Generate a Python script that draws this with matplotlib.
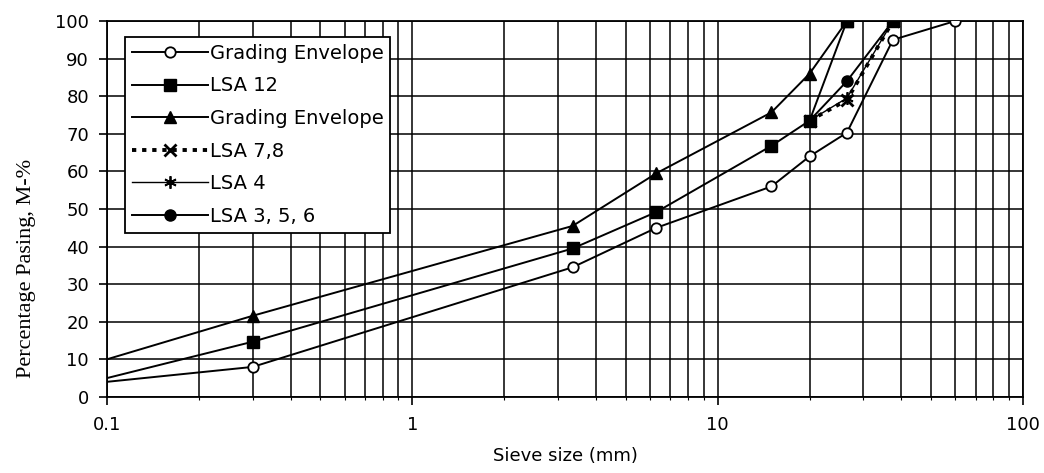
import matplotlib
matplotlib.use("Agg")
import matplotlib.pyplot as plt
from matplotlib.ticker import FixedLocator, FixedFormatter, LogLocator, NullFormatter

# ---- data ----
sieve_lower = [0.075, 0.3, 3.35, 6.3, 15, 20, 26.5, 37.5, 60]
pass_lower = [3, 8, 34.5, 45, 56, 64, 70.3, 95, 100]

sieve_lsa12 = [0.075, 0.3, 3.35, 6.3, 15, 20, 26.5, 37.5]
pass_lsa12 = [2.5, 14.7, 39.5, 49.2, 66.8, 73.5, 100, 100]

sieve_upper = [0.075, 0.3, 3.35, 6.3, 15, 20, 26.5]
pass_upper = [7, 21.6, 45.5, 59.5, 75.7, 86, 100]

sieve_lsa = [20, 26.5, 37.5]
pass_lsa78 = [73.5, 79, 100]
pass_lsa4 = [73.5, 79.5, 100]
pass_lsa356 = [73.5, 84, 100]

labels = ["Grading Envelope", "LSA 12", "Grading Envelope", "LSA 7,8", "LSA 4", "LSA 3, 5, 6"]
x_ticks = [0.1, 1, 10, 100]
x_ticklabels = ["0.1", "1", "10", "100"]
y_ticks = list(range(0, 101, 10))
y_ticklabels = [str(v) for v in y_ticks]

plt.rcParams["font.family"] = ["DejaVu Sans"]

fig = plt.figure(figsize=(10.44, 4.73), dpi=100)
ax = fig.add_axes([107 / 1044, 1 - 397 / 473, 916 / 1044, 376 / 473])

lw = 1.4
ax.plot(sieve_lower, pass_lower, color="black", lw=lw, marker="o", ms=7.5,
        mfc="white", mec="black", mew=1.3, label=labels[0], zorder=3)
ax.plot(sieve_lsa12, pass_lsa12, color="black", lw=lw, marker="s", ms=8,
        mfc="black", mec="black", label=labels[1], zorder=3)
ax.plot(sieve_upper, pass_upper, color="black", lw=lw, marker="^", ms=8.5,
        mfc="black", mec="black", label=labels[2], zorder=3)
ax.plot(sieve_lsa, pass_lsa78, color="black", lw=2.8, linestyle=(0, (1.1, 1.5)),
        marker="x", ms=8, mew=2.0, mec="black", label=labels[3], zorder=3)
ax.plot(sieve_lsa, pass_lsa4, color="black", lw=1.0, marker=(6, 2, 0), ms=9,
        mew=1.3, mec="black", label=labels[4], zorder=3)
ax.plot(sieve_lsa, pass_lsa356, color="black", lw=lw, marker="o", ms=8,
        mfc="black", mec="black", label=labels[5], zorder=3)

ax.set_xscale("log")
ax.set_xlim(0.1, 100)
ax.set_ylim(0, 100)

ax.xaxis.set_major_locator(FixedLocator(x_ticks))
ax.xaxis.set_major_formatter(FixedFormatter(x_ticklabels))
ax.xaxis.set_minor_locator(LogLocator(base=10, subs=range(2, 10)))
ax.xaxis.set_minor_formatter(NullFormatter())
ax.yaxis.set_major_locator(FixedLocator(y_ticks))
ax.yaxis.set_major_formatter(FixedFormatter(y_ticklabels))

ax.grid(which="both", axis="x", color="black", lw=1.1, zorder=1)
ax.grid(which="major", axis="y", color="black", lw=1.1, zorder=1)
ax.set_axisbelow(True)

for s in ax.spines.values():
    s.set_color("black")
    s.set_linewidth(1.3)

ax.tick_params(axis="both", which="major", direction="out", length=6, width=1.2,
               colors="black", labelsize=13)
ax.tick_params(axis="x", which="major", pad=8)
ax.tick_params(axis="y", which="major", pad=7)
ax.tick_params(axis="x", which="minor", direction="out", length=2.5, width=0.8)

ax.set_xlabel("Sieve size (mm)", fontsize=13, labelpad=9)
fig.text(27 / 1044, 1 - 268 / 473, "Percentage Pasing, M-%", rotation=90,
         ha="center", va="center", fontsize=16, family=["Liberation Serif", "DejaVu Serif"])

leg = ax.legend(loc="upper left", bbox_to_anchor=((125 - 107) / 916, (397 - 37) / 376),
                borderaxespad=0, fontsize=14, frameon=True, fancybox=False,
                edgecolor="black", facecolor="white", framealpha=1,
                handlelength=3.9, handletextpad=0.1, labelspacing=0.7,
                borderpad=0.35)
leg.get_frame().set_linewidth(1.3)
leg.set_zorder(5)

fig.savefig("out.png", dpi=100)
